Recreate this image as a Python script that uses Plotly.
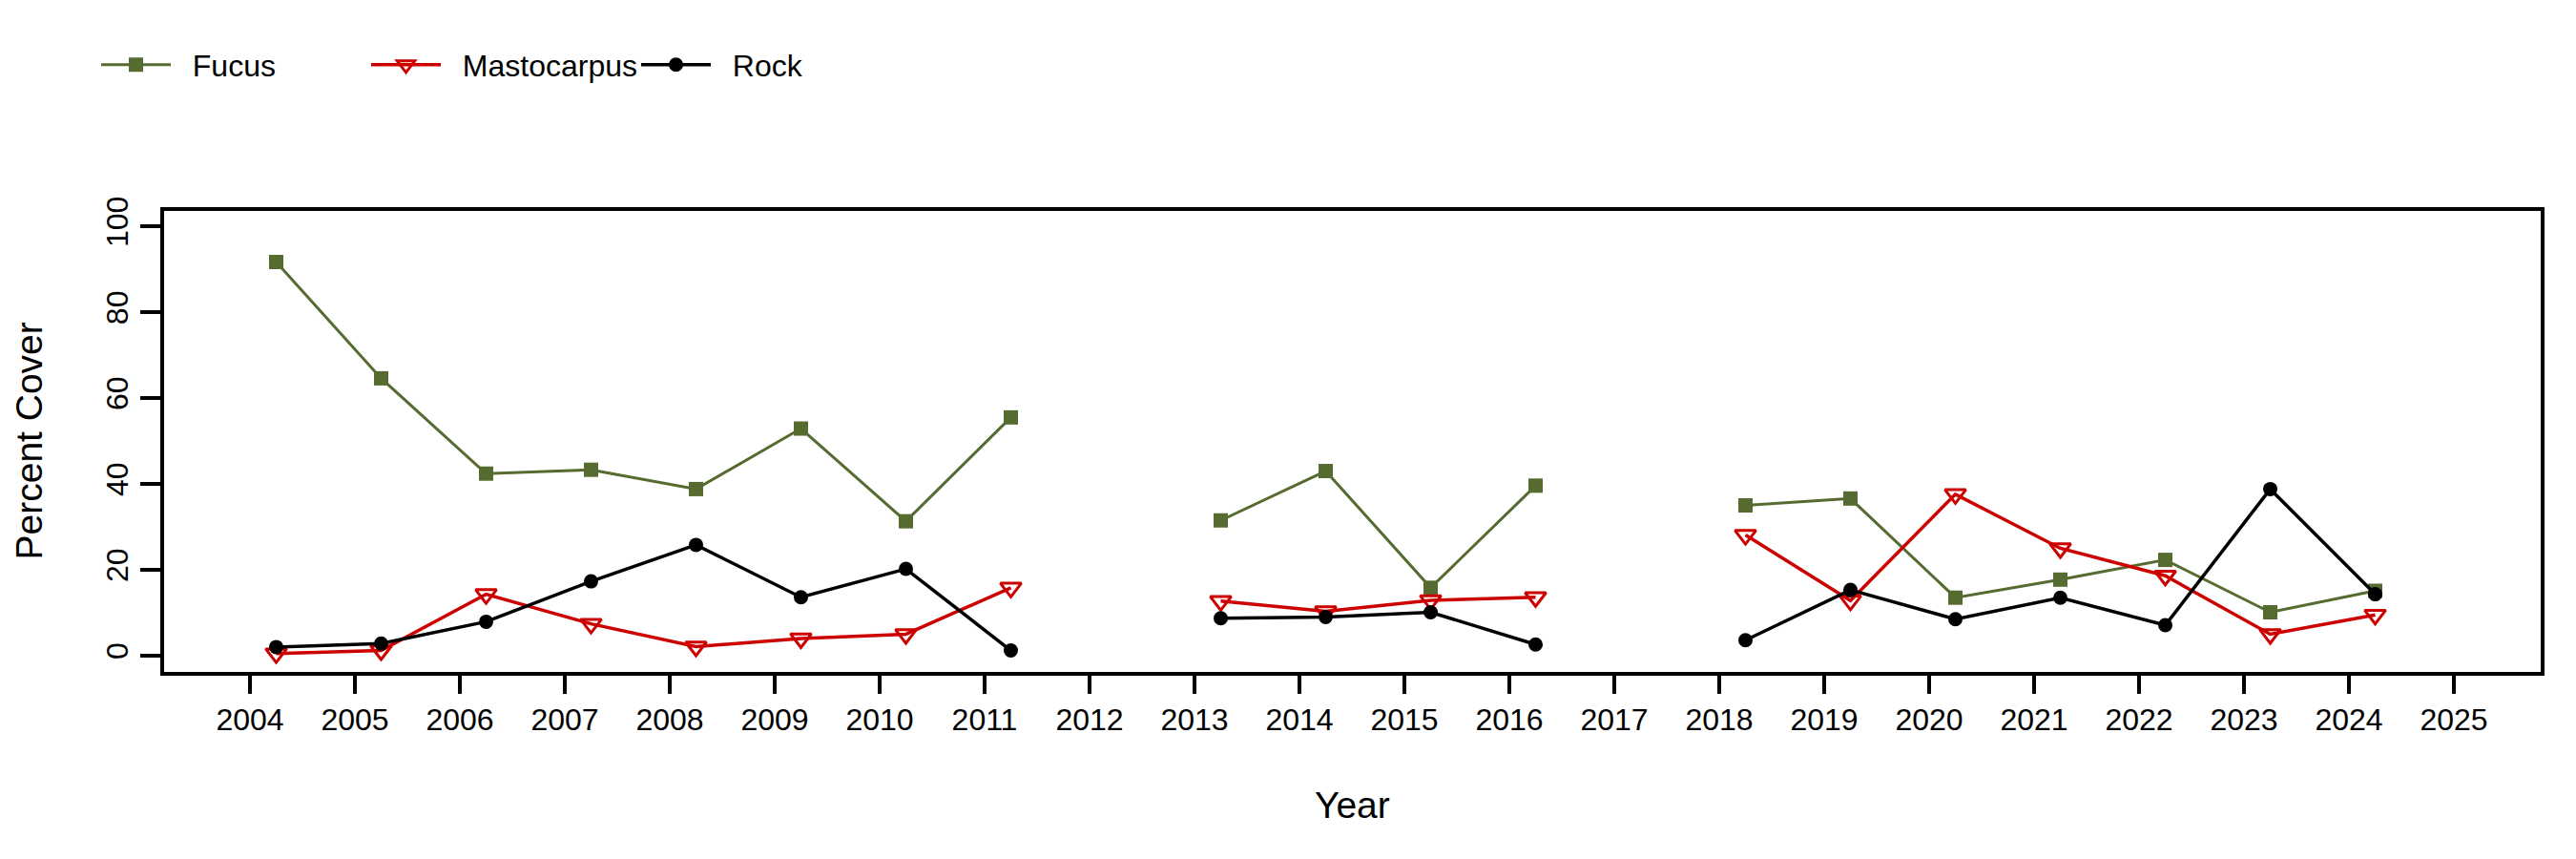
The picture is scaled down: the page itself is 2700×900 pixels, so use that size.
import plotly.graph_objects as go

years = [2004, 2005, 2006, 2007, 2008, 2009, 2010, 2011, 2012, 2013, 2014,
         2015, 2016, 2017, 2018, 2019, 2020, 2021, 2022, 2023, 2024]
fucus = [91.7, 64.6, 42.4, 43.3, 38.8, 52.9, 31.3, 55.5, None, 31.5, 43.0,
         15.8, 39.6, None, 35.0, 36.6, 13.5, 17.7, 22.3, 10.1, 15.1]
mastocarpus = [0.5, 1.2, 14.3, 7.4, 2.1, 4.0, 5.0, 15.8, None, 12.7, 10.3,
               12.9, 13.6, None, 28.1, 12.8, 37.6, 25.0, 18.6, 5.0, 9.5]
rock = [2.0, 2.8, 7.9, 17.3, 25.8, 13.6, 20.2, 1.2, None, 8.7, 9.0,
        10.1, 2.6, None, 3.6, 15.3, 8.5, 13.5, 7.1, 38.8, 14.3]
tick_years = list(range(2004, 2026))
y_ticks = [0, 20, 40, 60, 80, 100]

xpos = [y + 0.25 for y in years]
FONT = "Liberation Sans, Arial, sans-serif"
NB = "\u00a0\u00a0"

fig = go.Figure()
fig.add_trace(go.Scatter(x=xpos, y=fucus, name=NB + "Fucus", mode="lines+markers",
                         line=dict(color="#556B2F", width=3),
                         marker=dict(symbol="square", size=15, color="#556B2F")))
fig.add_trace(go.Scatter(x=xpos, y=mastocarpus, name=NB + "Mastocarpus", mode="lines+markers",
                         line=dict(color="#CD0000", width=3.5),
                         marker=dict(symbol="triangle-down-open", size=19, color="#CD0000",
                                     line=dict(width=3, color="#CD0000"))))
fig.add_trace(go.Scatter(x=xpos, y=rock, name=NB + "Rock", mode="lines+markers",
                         line=dict(color="black", width=3.5),
                         marker=dict(symbol="circle", size=15, color="black")))

fig.update_layout(
    width=2700, height=900,
    margin=dict(l=164, r=45, t=213, b=204),
    paper_bgcolor="white", plot_bgcolor="white",
    font=dict(family=FONT, size=32, color="black"),
    showlegend=True,
    legend=dict(orientation="h", xref="container", yref="container",
                x=93 / 2700, y=1 - 60 / 900, xanchor="left", yanchor="middle",
                entrywidth=195, entrywidthmode="pixels",
                font=dict(family=FONT, size=32), itemwidth=73,
                bgcolor="rgba(0,0,0,0)"),
    xaxis=dict(range=[2003.182, 2025.827], tickmode="array", tickvals=tick_years,
               ticktext=[str(t) for t in tick_years],
               showgrid=False, zeroline=False,
               showline=True, linecolor="black", linewidth=4, mirror=True,
               ticks="outside", ticklen=19, tickwidth=3.5, tickcolor="black",
               tickfont=dict(size=32)),
    yaxis=dict(range=[-3.8, 103.6], tickmode="array", tickvals=y_ticks,
               showgrid=False, zeroline=False,
               showline=True, linecolor="black", linewidth=4, mirror=True,
               ticks="outside", ticklen=21, tickwidth=3.5, tickcolor="black",
               tickangle=-90, tickfont=dict(size=32)),
    annotations=[
        dict(text="Year", xref="paper", yref="paper", x=0.5, y=-(835 - 696) / 483,
             xanchor="center", yanchor="middle", showarrow=False,
             font=dict(family=FONT, size=39)),
        dict(text="Percent Cover", xref="paper", yref="paper",
             x=-(164 - 22) / 2491, y=0.5, textangle=-90,
             xanchor="center", yanchor="middle", showarrow=False,
             font=dict(family=FONT, size=39)),
    ],
)

fig.write_html("out.html")
